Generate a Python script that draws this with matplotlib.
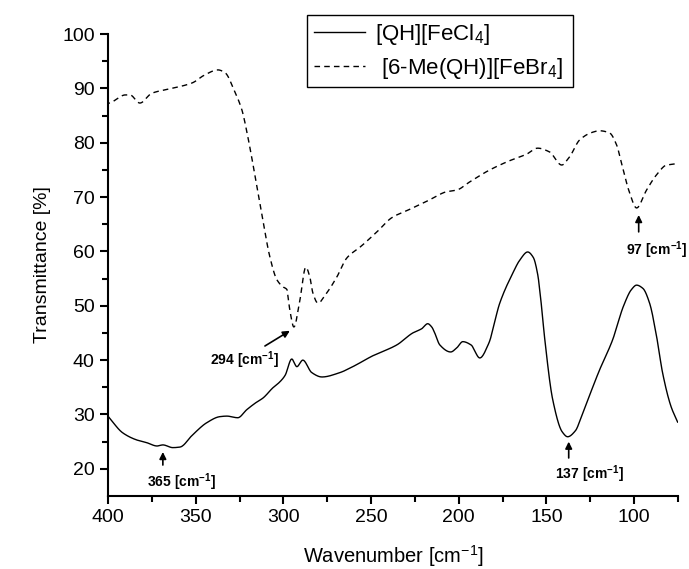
import numpy as np
import matplotlib
matplotlib.use("Agg")
import matplotlib.pyplot as plt

plt.rcParams['font.family'] = ['Liberation Sans', 'DejaVu Sans']
plt.rcParams['mathtext.fontset'] = 'custom'
plt.rcParams['mathtext.rm'] = 'Liberation Sans'
plt.rcParams['mathtext.bf'] = 'Liberation Sans:bold'

# [QH][FeCl4] - solid
cl_x = [400, 391.5, 383.5, 377.8, 372, 368.7, 363, 359, 351.6, 343.6, 336.2, 332.2, 326,
        320.8, 315.1, 311.7, 306, 302, 299, 295.2, 292.3, 288.9, 283.8, 278, 267.8, 260.4,
        249, 235.3, 226.2, 221, 217.7, 215.4, 213.7, 210.8, 204.6, 201, 197.7, 193, 188, 183,
        176.6, 169.2, 165, 160.7, 157.5, 155, 153, 151, 146.4, 141, 137.9, 133.5, 129.3, 119.7,
        112.3, 106, 101.5, 98.6, 95, 91.2, 87, 83.8, 79, 75.2]
cl_y = [29.7, 26.6, 25.3, 24.8, 24.2, 24.4, 23.9, 24.0, 26.3, 28.5, 29.6, 29.7, 29.4,
        30.9, 32.3, 33.0, 34.9, 36.0, 37.2, 40.2, 38.8, 40.0, 37.7, 36.9, 37.7, 38.8,
        40.8, 42.8, 45.0, 45.8, 46.7, 46.1, 45.0, 42.8, 41.5, 42.3, 43.4, 42.8, 40.4, 43.0,
        50.5, 56.0, 58.5, 59.9, 58.9, 55.8, 50.5, 44.0, 32.7, 26.8, 25.9, 27.0, 30.3, 38.2,
        43.7, 50.0, 53.0, 53.8, 53.2, 50.5, 44.0, 37.7, 31.5, 28.6]

# [6-Me(QH)][FeBr4] - dashed
br_x = [400, 397.7, 390, 387.5, 381.8, 375, 363.5, 352, 344.7, 337.3, 333.3, 327.6, 323.6,
        320.2, 316.2, 311.7, 307.7, 303.7, 300.3, 298, 296.3, 294, 290.6, 287.2, 284.9,
        283.2, 280.3, 275.2, 269.5, 263.8, 255.5, 246, 238.2, 226.2, 216.5, 206.8, 201.1,
        193.7, 182.3, 170.9, 161.3, 155, 148.2, 141.3, 136.8, 131.1, 124, 119.7, 114,
        110, 106.6, 102.6, 98.6, 92.9, 87.2, 81.5, 76.9]
br_y = [87.2, 87.5, 88.8, 88.8, 87.3, 89.1, 90.0, 91.0, 92.5, 93.4, 92.9, 89.3, 86.0,
        81.0, 74.0, 65.8, 59.0, 54.8, 53.5, 53.0, 49.2, 46.1, 51.0, 57.1, 55.3,
        52.4, 50.5, 52.4, 55.3, 58.8, 61.0, 63.8, 66.2, 68.0, 69.5, 71.0, 71.3,
        72.8, 75.0, 76.7, 77.9, 79.0, 78.3, 75.9, 77.4, 80.5, 81.9, 82.2, 81.8,
        79.6, 75.5, 70.8, 68.0, 71.3, 74.1, 75.9, 76.1]

labels = ['[QH][FeCl$_4$]', ' [6-Me(QH)][FeBr$_4$]']

# peak labels: text, arrow tail, arrow tip, text position
peaks = [
    ('365 [cm$^{\\mathbf{-1}}$]', (368.7, 20.7), (368.7, 23.1), (357.8, 17.6)),
    ('294 [cm$^{\\mathbf{-1}}$]', (310.5, 42.6), (296.3, 45.4), (322.0, 40.0)),
    ('137 [cm$^{\\mathbf{-1}}$]', (137.3, 22.0), (137.3, 25.0), (125.4, 19.1)),
    ('97 [cm$^{\\mathbf{-1}}$]', (97.4, 63.6), (97.4, 66.7), (87.2, 60.3)),
]


def pchip(x, y, n=1500):
    # monotone cubic through the read points (x must be sorted)
    x = np.asarray(x, float)[::-1]
    y = np.asarray(y, float)[::-1]
    h = np.diff(x)
    d = np.diff(y) / h
    m = np.zeros_like(y)
    for k in range(1, len(x) - 1):
        if d[k - 1] * d[k] > 0:
            w1 = 2 * h[k] + h[k - 1]
            w2 = h[k] + 2 * h[k - 1]
            m[k] = (w1 + w2) / (w1 / d[k - 1] + w2 / d[k])
    m[0] = d[0]
    m[-1] = d[-1]
    xx = np.linspace(x[0], x[-1], n)
    idx = np.clip(np.searchsorted(x, xx) - 1, 0, len(x) - 2)
    t = (xx - x[idx]) / h[idx]
    h00 = 2 * t ** 3 - 3 * t ** 2 + 1
    h10 = t ** 3 - 2 * t ** 2 + t
    h01 = -2 * t ** 3 + 3 * t ** 2
    h11 = t ** 3 - t ** 2
    yy = h00 * y[idx] + h10 * h[idx] * m[idx] + h01 * y[idx + 1] + h11 * h[idx] * m[idx + 1]
    return xx, yy


fig = plt.figure(figsize=(6.89, 5.69), dpi=100)
ax = fig.add_axes([0.1567, 0.1283, 0.984 - 0.1567, 0.9402 - 0.1283])

sx, sy = pchip(cl_x, cl_y)
ax.plot(sx, sy, color='black', lw=1.0, label=labels[0])
sx, sy = pchip(br_x, br_y)
ax.plot(sx, sy, color='black', lw=1.0, linestyle=(0, (4, 3)), label=labels[1])

ax.set_xlim(400, 75)
ax.set_ylim(15, 100)
ax.set_xticks([400, 350, 300, 250, 200, 150, 100])
ax.set_xticks(np.arange(375, 74, -50), minor=True)
ax.set_yticks(np.arange(20, 101, 10))
ax.set_yticks(np.arange(25, 100, 10), minor=True)

for side in ['top', 'right']:
    ax.spines[side].set_visible(False)
for side in ['left', 'bottom']:
    ax.spines[side].set_linewidth(1.5)

ax.tick_params(which='major', direction='out', length=6, width=1.5, labelsize=14)
ax.tick_params(which='minor', direction='out', length=4, width=1.5)

ax.set_xlabel('Wavenumber [cm$^{-1}$]', fontsize=14.5, labelpad=12)
ax.set_ylabel('Transmittance [%]', fontsize=14, labelpad=8)

for txt, tail, tip, pos in peaks:
    ax.annotate('', xy=tip, xytext=tail,
                arrowprops=dict(arrowstyle='-|>', color='black', lw=1.2,
                                mutation_scale=10, shrinkA=0, shrinkB=0))
    ax.text(pos[0], pos[1], txt, fontsize=10, fontweight='bold',
            ha='center', va='center')

leg = ax.legend(loc='upper left', bbox_to_anchor=(0.4456, 0.847, 0.386, 0.1266),
                bbox_transform=fig.transFigure, mode='expand', fontsize=16,
                handlelength=2.3, handletextpad=0.45, borderpad=0.3,
                labelspacing=0.4, borderaxespad=0, fancybox=False,
                framealpha=1, edgecolor='black')
leg.get_frame().set_linewidth(1.0)
leg.set_clip_on(False)

fig.savefig('out.png', dpi=100)
